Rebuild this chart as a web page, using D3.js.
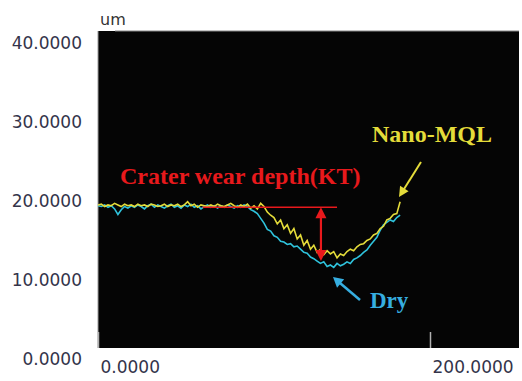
<!DOCTYPE html>
<html>
<head>
<meta charset="utf-8">
<script src="https://cdn.jsdelivr.net/npm/d3@7"></script>
<style>
  html, body { margin: 0; padding: 0; background: #fff; }
  svg { display: block; }
</style>
</head>
<body>
<svg id="chart" width="522" height="381"></svg>
<script>
// profile data, um vs position (x step 2)
var xs = d3.range(0, 184, 2);

var dry = [19.4,19.3,19.5,19.2,19.4,19.0,18.3,18.9,19.3,19.1,19.4,19.2,19.5,19.3,19.0,19.4,19.6,19.2,19.5,19.3,
  19.1,19.4,19.6,19.2,19.4,19.1,19.5,19.3,19.6,19.2,19.4,19.0,19.3,19.5,19.2,19.4,19.1,19.4,19.2,19.5,
  19.3,19.1,19.4,19.2,19.5,19.3,18.9,18.7,18.4,17.8,17.2,16.4,16.2,15.6,15.4,14.9,14.8,14.5,14.6,14.2,
  14.3,13.9,13.5,13.4,12.9,12.7,12.4,12.1,12.3,11.7,11.9,11.6,12.1,11.8,12.0,12.3,12.1,12.6,12.8,13.1,
  13.5,13.8,14.4,14.9,15.4,16.3,17.0,17.3,17.6,17.4,17.9,18.2];

var nano = [19.5,19.6,19.3,19.5,19.4,19.7,19.5,19.3,19.6,19.4,19.5,19.3,19.6,19.4,19.5,19.3,19.6,19.5,19.3,19.4,
  19.6,19.3,19.5,19.4,19.6,19.3,19.5,19.9,19.4,19.6,19.2,19.5,19.4,19.3,19.5,19.3,19.6,19.4,19.3,19.5,
  19.7,19.4,19.2,19.5,19.3,19.6,19.1,19.4,19.0,19.7,19.3,18.6,18.2,17.9,17.1,17.6,16.5,17.0,15.9,16.5,
  15.2,15.7,14.4,15.0,13.9,14.4,13.5,13.9,13.2,13.7,13.3,13.6,12.8,13.3,13.1,13.6,13.9,13.7,14.2,14.5,
  14.6,15.0,15.2,15.7,15.9,16.5,16.8,17.6,17.8,18.3,18.4,19.9];

var yTicks = [0, 10, 20, 30, 40];
var xTicks = [0, 200];

var svg = d3.select("#chart");

// plot box
var pLeft = 98, pRight = 519, pTop = 31, pBottom = 348;

var x = d3.scaleLinear().domain([0, 200]).range([pLeft, 430]);
var y = d3.scaleLinear().domain([0, 40]).range([359, 43]);

svg.append("rect")
  .attr("x", pLeft).attr("y", pTop)
  .attr("width", pRight - pLeft).attr("height", pBottom - pTop)
  .attr("fill", "#050505");

// grey frame on top and left
svg.append("line").attr("x1", 115).attr("x2", pRight).attr("y1", pTop).attr("y2", pTop)
  .attr("stroke", "#8a8a8a").attr("stroke-width", 1.2);
svg.append("line").attr("x1", pLeft).attr("x2", pLeft).attr("y1", pTop).attr("y2", pBottom)
  .attr("stroke", "#9a9a9a").attr("stroke-width", 1);

// unit label
svg.append("text").attr("x", 100).attr("y", 25)
  .attr("font-family", "DejaVu Sans, sans-serif").attr("font-size", 16)
  .attr("fill", "#333").text("um");

// y axis
var yAxis = svg.append("g")
  .attr("transform", "translate(82,0)")
  .call(d3.axisLeft(y).tickValues(yTicks).tickFormat(d3.format(".4f")).tickSize(0).tickPadding(0));
yAxis.select(".domain").remove();
yAxis.selectAll("text")
  .attr("font-family", "DejaVu Sans, sans-serif").attr("font-size", 17)
  .attr("fill", "#34344a");

// x axis
var xAxis = svg.append("g")
  .attr("transform", "translate(0," + pBottom + ")")
  .call(d3.axisBottom(x).tickValues(xTicks).tickFormat(d3.format(".4f")).tickSizeInner(-16).tickSizeOuter(0));
xAxis.select(".domain").remove();
xAxis.selectAll("line").attr("stroke", "#b0b0b0").attr("stroke-width", 1.5);
xAxis.selectAll("text")
  .attr("text-anchor", "start").attr("x", 2).attr("y", 25).attr("dy", null)
  .attr("font-family", "DejaVu Sans, sans-serif").attr("font-size", 17)
  .attr("fill", "#34344a");

// profile lines
var line = d3.line()
  .x(function(d, i) { return x(xs[i]); })
  .y(function(d) { return y(d); });

svg.append("path").datum(dry)
  .attr("d", line).attr("fill", "none")
  .attr("stroke", "#2fc3dc").attr("stroke-width", 1.6);

svg.append("path").datum(nano)
  .attr("d", line).attr("fill", "none")
  .attr("stroke", "#e4dc3a").attr("stroke-width", 1.6);

// simple arrow helper, head at (x2,y2)
function arrow(x1, y1, x2, y2, color, w, hl, hw, both) {
  var ang = Math.atan2(y2 - y1, x2 - x1);
  function head(px, py, a) {
    var bx = px - hl * Math.cos(a), by = py - hl * Math.sin(a);
    var nx = -Math.sin(a) * hw / 2, ny = Math.cos(a) * hw / 2;
    svg.append("polygon")
      .attr("points", [[px, py], [bx + nx, by + ny], [bx - nx, by - ny]].map(function(p) { return p.join(","); }).join(" "))
      .attr("fill", color);
  }
  var sx = both ? x1 + (hl - 2) * Math.cos(ang) : x1, sy = both ? y1 + (hl - 2) * Math.sin(ang) : y1;
  svg.append("line")
    .attr("x1", sx).attr("y1", sy)
    .attr("x2", x2 - (hl - 2) * Math.cos(ang)).attr("y2", y2 - (hl - 2) * Math.sin(ang))
    .attr("stroke", color).attr("stroke-width", w);
  head(x2, y2, ang);
  if (both) head(x1, y1, ang + Math.PI);
}

// crater depth reference line and arrow
var red = "#e8191c";
svg.append("line")
  .attr("x1", x(63)).attr("x2", x(144)).attr("y1", y(19.2)).attr("y2", y(19.2))
  .attr("stroke", red).attr("stroke-width", 1.5);
arrow(x(134.3), y(19.2), x(134.3), y(12.4), red, 2.2, 11, 11, true);

// labels
function label(tx, ty, txt, color, size) {
  svg.append("text").attr("x", tx).attr("y", ty)
    .attr("font-family", "Liberation Serif, Times New Roman, serif")
    .attr("font-weight", "bold").attr("font-size", size)
    .attr("fill", color).text(txt);
}
label(120, 184, "Crater wear depth(KT)", red, 24);
label(372, 142, "Nano-MQL", "#e4dc3a", 24);
label(370, 308, "Dry", "#36aee0", 23);

arrow(421, 162, 399, 197, "#e4dc3a", 2, 10, 10, false);
arrow(360, 300, 333, 277, "#36aee0", 2.5, 10, 11, false);
</script>
</body>
</html>
